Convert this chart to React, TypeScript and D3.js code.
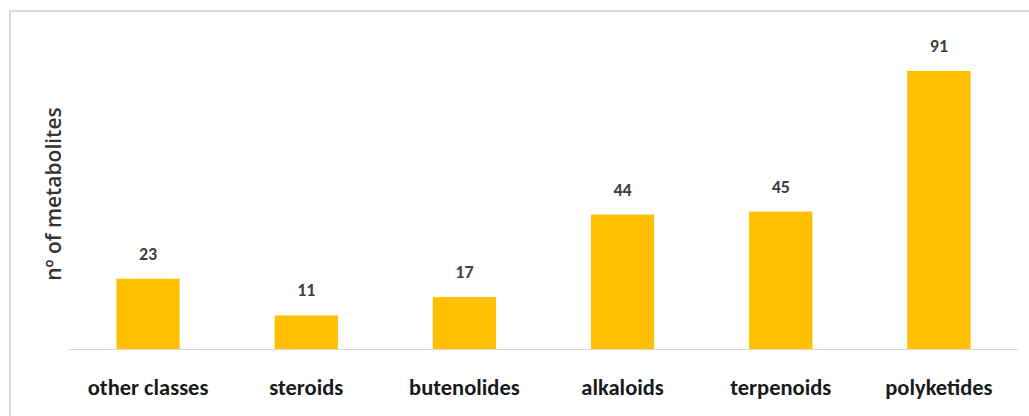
import React from "react";
import * as d3 from "d3";

const categories = ["other classes", "steroids", "butenolides", "alkaloids", "terpenoids", "polyketides"];
const counts = [23, 11, 17, 44, 45, 91];
const yMax = 100;

const W = 1029;
const H = 416;
const margin = { left: 69, right: 11, top: 43, bottom: 67 };

export default function App() {
  const x = d3
    .scaleBand<string>()
    .domain(categories)
    .range([margin.left, W - margin.right])
    .paddingInner(0.6)
    .paddingOuter(0.3);
  const y = d3
    .scaleLinear()
    .domain([0, yMax])
    .range([H - margin.bottom, H - margin.bottom - 305.5]);

  const baseY = y(0);
  const labelFont = "Carlito, Calibri, 'Liberation Sans Narrow', Lato, sans-serif";

  return (
    <svg
      width={W}
      height={H}
      style={{ position: "absolute", left: 0, top: 0, background: "#fff" }}
    >
      {/* chart frame */}
      <rect x={10} y={11} width={W + 20} height={H + 20} fill="#fff" stroke="#d9d9d9" strokeWidth={2} />

      {/* y axis title */}
      <text
        transform={`translate(61, 194) rotate(-90)`}
        textAnchor="middle"
        fontFamily="'Open Sans', sans-serif"
        fontSize={21}
        fontWeight={600}
        fill="#333"
      >
        nº of metabolites
      </text>

      {/* baseline */}
      <line
        x1={margin.left}
        x2={W - margin.right}
        y1={baseY + 0.5}
        y2={baseY + 0.5}
        stroke="#d9d9d9"
        strokeWidth={1}
      />

      {categories.map((c, i) => {
        const bx = x(c)!;
        const bw = x.bandwidth();
        const top = y(counts[i]);
        return (
          <g key={c}>
            <rect x={bx} y={top} width={bw} height={baseY - top} fill="#FFC000" />
            <text
              x={bx + bw / 2}
              y={top - 19}
              textAnchor="middle"
              fontFamily={labelFont}
              fontSize={18}
              fontWeight={600}
              fill="#404040"
            >
              {counts[i]}
            </text>
            <text
              x={bx + bw / 2}
              y={395}
              textAnchor="middle"
              fontFamily={labelFont}
              fontSize={22.5}
              fontWeight={600}
              fill="#1a1a1a"
            >
              {c}
            </text>
          </g>
        );
      })}
    </svg>
  );
}
